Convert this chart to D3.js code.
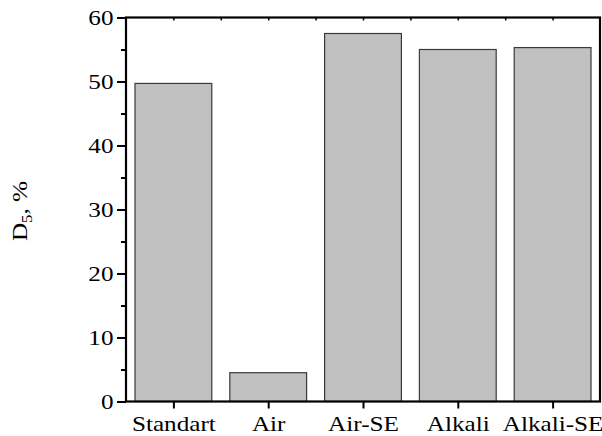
<!DOCTYPE html>
<html>
<head>
<meta charset="utf-8">
<script src="https://cdn.jsdelivr.net/npm/d3@7"></script>
<style>
  html, body { margin: 0; padding: 0; background: #fff; }
  svg { display: block; }
  svg text { font-family: "Liberation Serif", "Times New Roman", "DejaVu Serif", serif; font-size: 21px; fill: #000; }
</style>
</head>
<body>
<svg id="chart" width="602" height="436"></svg>
<script>
// Sample groups and their D5 values (%)
const categories = ["Standart", "Air", "Air-SE", "Alkali", "Alkali-SE"];
const d5Values = [49.7, 4.5, 57.5, 55.0, 55.3];
const yTicks = [0, 10, 20, 30, 40, 50, 60];
const yMinorTicks = [5, 15, 25, 35, 45, 55];

const svg = d3.select("#chart");
const plotLeft = 126, plotRight = 600, plotTop = 17.5, plotBottom = 401.5;
const stretch = 1.2; // wide glyph look of the labels

const x = d3.scaleLinear().domain([0.5, categories.length + 0.5]).range([plotLeft, plotRight]);
const y = d3.scaleLinear().domain([0, 60]).range([plotBottom, plotTop]);
const barW = (x(1) - x(0)) * 0.81;

// Horizontally stretch a text element about its own anchor x
function widen(sel) {
  sel.each(function () {
    const t = d3.select(this);
    const ax = +t.attr("x") || 0;
    t.attr("transform", `translate(${ax},0) scale(${stretch},1) translate(${-ax},0)`);
  });
}

// Bars
svg.append("g")
  .selectAll("rect")
  .data(categories.map((c, i) => ({ c, i, v: d5Values[i] })))
  .join("rect")
  .attr("x", d => x(d.i + 1) - barW / 2)
  .attr("y", d => y(d.v))
  .attr("width", barW)
  .attr("height", d => y(0) - y(d.v))
  .attr("fill", "#c0c0c0")
  .attr("stroke", "#3a3a3a")
  .attr("stroke-width", 1.2);

// Left axis with major/minor ticks
const yAxis = d3.axisLeft(y).tickValues(yTicks).tickSize(9).tickPadding(3.5).tickFormat(d3.format("d"));
const gy = svg.append("g").attr("transform", `translate(${plotLeft},0)`).call(yAxis);
gy.selectAll(".tick line").attr("stroke-width", 2);
gy.selectAll(".tick text").call(widen);
gy.select(".domain").remove();
svg.append("g").attr("transform", `translate(${plotLeft},0)`)
  .call(d3.axisLeft(y).tickValues(yMinorTicks).tickSize(5).tickFormat(""))
  .call(g => g.select(".domain").remove())
  .selectAll(".tick line").attr("stroke-width", 2);

// Bottom axis with category labels
const catPos = categories.map((c, i) => i + 1);
const xAxis = d3.axisBottom(x).tickValues(catPos).tickSize(7).tickPadding(8)
  .tickFormat(d => categories[d - 1]);
const gx = svg.append("g").attr("transform", `translate(0,${plotBottom})`).call(xAxis);
gx.selectAll(".tick line").attr("stroke-width", 2);
gx.selectAll(".tick text").call(widen);
gx.select(".domain").remove();

// Top axis: short inward ticks at categories and midpoints
const topTicks = d3.range(1, categories.length + 0.01, 0.5);
svg.append("g").attr("transform", `translate(0,${plotTop})`)
  .call(d3.axisBottom(x).tickValues(topTicks).tickSize(3).tickFormat(""))
  .call(g => g.select(".domain").remove())
  .selectAll(".tick line").attr("stroke-width", 1.5);

// Frame
svg.append("rect")
  .attr("x", plotLeft).attr("y", plotTop)
  .attr("width", plotRight - plotLeft).attr("height", plotBottom - plotTop)
  .attr("fill", "none").attr("stroke", "#000").attr("stroke-width", 2.2);

// Y-axis title
const yt = svg.append("text")
  .attr("transform", `translate(27,211) rotate(-90) scale(${stretch},1)`)
  .attr("text-anchor", "middle");
yt.append("tspan").text("D");
yt.append("tspan").style("font-size", "14px").attr("dy", 5).text("5");
yt.append("tspan").attr("dy", -5).text(", %");
</script>
</body>
</html>
